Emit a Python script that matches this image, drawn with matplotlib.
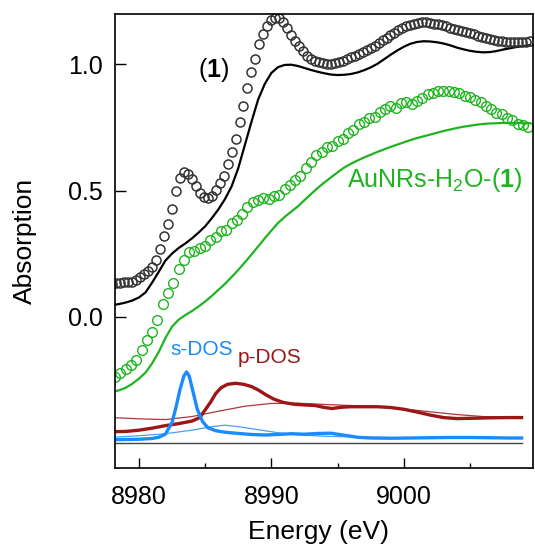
import numpy as np
import matplotlib
matplotlib.use('Agg')
import matplotlib.pyplot as plt
from matplotlib.ticker import MultipleLocator

plt.rcParams['font.family'] = ['Liberation Sans', 'DejaVu Sans']
plt.rcParams['mathtext.fontset'] = 'custom'
plt.rcParams['mathtext.rm'] = 'Liberation Sans'
plt.rcParams['mathtext.bf'] = 'Liberation Sans:bold'

# --- data ---
# experimental XANES, complex (1): energy grid 8978.0 ... 9009.5, 0.3 eV step
exp1_energy = np.linspace(8978.0, 9009.5, 106)
exp1_abs = [
    0.130, 0.132, 0.134, 0.136, 0.137, 0.139, 0.146, 0.157, 0.168, 0.181,
    0.198, 0.225, 0.268, 0.318, 0.368, 0.428, 0.498, 0.550, 0.572, 0.566,
    0.545, 0.520, 0.492, 0.476, 0.470, 0.478, 0.503, 0.530, 0.558, 0.605,
    0.652, 0.705, 0.770, 0.835, 0.906, 0.972, 1.022, 1.080, 1.120, 1.152,
    1.175, 1.186, 1.183, 1.168, 1.145, 1.118, 1.092, 1.072, 1.052, 1.034,
    1.022, 1.014, 1.008, 1.004, 1.003, 1.003, 1.005, 1.009, 1.015, 1.021,
    1.028, 1.035, 1.043, 1.050, 1.058, 1.066, 1.074, 1.084, 1.095, 1.105,
    1.115, 1.125, 1.135, 1.143, 1.151, 1.157, 1.162, 1.165, 1.167, 1.167,
    1.165, 1.162, 1.159, 1.155, 1.151, 1.146, 1.142, 1.138, 1.134, 1.130,
    1.125, 1.119, 1.113, 1.108, 1.104, 1.100, 1.097, 1.094, 1.091, 1.089,
    1.088, 1.088, 1.089, 1.089, 1.090, 1.091,
]

# experimental XANES, AuNRs-H2O-(1): energy grid 8978.2 ... 9009.4, 0.4 eV step
exp2_energy = np.linspace(8978.2, 9009.4, 79)
exp2_abs = [
    -0.240, -0.225, -0.207, -0.190, -0.170, -0.132, -0.094, -0.060, -0.015, 0.050,
    0.092, 0.135, 0.190, 0.225, 0.255, 0.262, 0.272, 0.281, 0.304, 0.316,
    0.338, 0.343, 0.370, 0.383, 0.407, 0.433, 0.454, 0.464, 0.470, 0.468,
    0.478, 0.484, 0.505, 0.522, 0.542, 0.558, 0.588, 0.612, 0.640, 0.652,
    0.672, 0.676, 0.696, 0.706, 0.728, 0.742, 0.762, 0.772, 0.789, 0.790,
    0.812, 0.822, 0.834, 0.828, 0.846, 0.850, 0.842, 0.856, 0.868, 0.884,
    0.886, 0.895, 0.893, 0.896, 0.889, 0.886, 0.873, 0.869, 0.858, 0.852,
    0.836, 0.825, 0.808, 0.802, 0.788, 0.780, 0.762, 0.758, 0.752,
]

# calculated spectra, 0.5 eV step
calc_energy = np.linspace(8978.0, 9009.5, 64)
calc1_abs = [
    0.046, 0.050, 0.056, 0.064, 0.076, 0.096, 0.135, 0.178, 0.222, 0.250,
    0.272, 0.290, 0.310, 0.333, 0.358, 0.390, 0.425, 0.466, 0.516, 0.588,
    0.680, 0.772, 0.860, 0.922, 0.966, 0.989, 0.998, 0.999, 0.994, 0.986,
    0.978, 0.971, 0.965, 0.960, 0.958, 0.959, 0.962, 0.968, 0.977, 0.988,
    1.002, 1.020, 1.038, 1.055, 1.070, 1.082, 1.089, 1.092, 1.091, 1.088,
    1.083, 1.076, 1.067, 1.060, 1.054, 1.050, 1.048, 1.049, 1.053, 1.059,
    1.064, 1.069, 1.073, 1.076,
]
calc2_abs = [
    -0.298, -0.292, -0.282, -0.266, -0.246, -0.222, -0.185, -0.140, -0.085, -0.040,
    -0.012, 0.006, 0.022, 0.040, 0.060, 0.082, 0.106, 0.130, 0.157, 0.185,
    0.215, 0.246, 0.278, 0.310, 0.341, 0.371, 0.395, 0.416, 0.437, 0.462,
    0.486, 0.510, 0.532, 0.552, 0.572, 0.591, 0.606, 0.619, 0.631, 0.642,
    0.653, 0.663, 0.673, 0.682, 0.691, 0.700, 0.708, 0.715, 0.722, 0.729,
    0.736, 0.742, 0.748, 0.753, 0.757, 0.761, 0.764, 0.766, 0.767, 0.768,
    0.768, 0.768, 0.767, 0.767,
]

# density of states (offset below the spectra)
sdos_energy = [8978.0, 8979.0, 8980.0, 8981.0, 8981.5, 8982.0, 8982.5, 8982.8, 8983.1, 8983.4,
               8983.6, 8983.8, 8984.1, 8984.4, 8984.8, 8985.2, 8985.8, 8986.5, 8987.5, 8988.5,
               8989.5, 8990.5, 8991.5, 8992.5, 8993.5, 8994.5, 8995.5, 8996.5, 8997.5, 8999.0,
               9000.5, 9002.0, 9003.5, 9005.0, 9006.5, 9008.0, 9008.9]
sdos = [-0.488, -0.487, -0.486, -0.483, -0.478, -0.466, -0.420, -0.360, -0.290, -0.235,
        -0.219, -0.235, -0.300, -0.365, -0.415, -0.440, -0.452, -0.458, -0.463, -0.467,
        -0.469, -0.467, -0.464, -0.466, -0.463, -0.462, -0.470, -0.478, -0.481, -0.482,
        -0.481, -0.480, -0.479, -0.479, -0.480, -0.481, -0.481]
sdos_broad_energy = [8978.0, 8980.0, 8982.0, 8984.0, 8985.5, 8986.5, 8987.5, 8989.0, 8990.5,
                     8992.0, 8994.0, 8997.0, 9001.0, 9005.0, 9008.9]
sdos_broad = [-0.478, -0.472, -0.464, -0.450, -0.436, -0.430, -0.436, -0.448, -0.460,
              -0.468, -0.474, -0.478, -0.480, -0.480, -0.480]

pdos_energy = [8978.0, 8979.0, 8980.0, 8981.0, 8982.0, 8983.0, 8984.0, 8984.6, 8985.0, 8985.4,
               8985.8, 8986.2, 8986.7, 8987.3, 8987.9, 8988.5, 8989.0, 8989.6, 8990.2, 8990.9,
               8991.7, 8992.5, 8993.3, 8994.0, 8994.6, 8995.3, 8996.0, 8997.0, 8998.0, 8999.0,
               9000.0, 9001.0, 9002.0, 9003.0, 9004.0, 9005.0, 9006.5, 9008.0, 9008.9]
pdos = [-0.456, -0.455, -0.450, -0.442, -0.432, -0.424, -0.414, -0.400, -0.370, -0.340,
        -0.305, -0.282, -0.268, -0.264, -0.268, -0.277, -0.290, -0.310, -0.327, -0.340,
        -0.347, -0.350, -0.352, -0.360, -0.364, -0.359, -0.357, -0.357, -0.357, -0.360,
        -0.367, -0.378, -0.390, -0.400, -0.404, -0.403, -0.401, -0.400, -0.400]
pdos_broad_energy = [8978.0, 8980.0, 8982.0, 8984.0, 8986.0, 8988.0, 8990.0, 8992.0, 8994.0,
                     8996.0, 8998.0, 9000.0, 9002.0, 9004.0, 9006.0, 9008.9]
pdos_broad = [-0.400, -0.405, -0.408, -0.396, -0.375, -0.355, -0.344, -0.343, -0.348,
              -0.352, -0.358, -0.366, -0.377, -0.388, -0.396, -0.400]

dos_zero_energy = [8978.0, 9008.9]
dos_zero = [-0.50, -0.50]

yticks = [0.0, 0.5, 1.0]

green = '#1fb41f'
blue = '#1a8cff'
darkred = '#9c1616'

fig = plt.figure(figsize=(5.35, 5.51), dpi=100)
ax = fig.add_axes([0.215, 0.1506, 0.781, 0.824])

ax.plot(dos_zero_energy, dos_zero, color='#444444', lw=1.0)
ax.plot(pdos_broad_energy, pdos_broad, color='#a83a3a', lw=0.9)
ax.plot(sdos_broad_energy, sdos_broad, color='#4a9ff0', lw=0.9)
ax.plot(pdos_energy, pdos, color=darkred, lw=2.4)
ax.plot(sdos_energy, sdos, color=blue, lw=2.4)

ax.plot(calc_energy, calc2_abs, color=green, lw=1.6)
ax.plot(calc_energy, calc1_abs, color='black', lw=1.6)
ax.plot(exp2_energy, exp2_abs, 'o', ms=7, mfc='none', mec=green, mew=1.0)
ax.plot(exp1_energy, exp1_abs, 'o', ms=6.5, mfc='none', mec='#333333', mew=1.1)

ax.text(8984.45, 0.952, r'($\mathbf{1}$)', fontsize=18, color='black')
ax.text(8995.7, 0.515, r'AuNRs-H$_2$O-($\mathbf{1}$)', fontsize=18, color=green)
ax.text(8982.36, -0.152, 's-DOS', fontsize=15, color=blue)
ax.text(8987.47, -0.185, 'p-DOS', fontsize=15, color=darkred)

ax.set_xlim(8978.2, 9009.75)
ax.set_ylim(-0.60, 1.20)
ax.xaxis.set_major_locator(MultipleLocator(10))
ax.xaxis.set_minor_locator(MultipleLocator(5))
ax.set_yticks(yticks)
ax.set_yticklabels([f'{v:.1f}' for v in yticks])
ax.tick_params(axis='x', which='major', direction='in', length=7.2, width=1, labelsize=18, pad=12)
ax.tick_params(axis='x', which='minor', direction='in', length=3.6, width=1)
ax.tick_params(axis='y', which='major', direction='in', length=8, width=1, labelsize=18, pad=9)
for s in ax.spines.values():
    s.set_linewidth(1.2)

ax.set_xlabel('Energy (eV)', fontsize=19)
ax.set_ylabel('Absorption', fontsize=19)
ax.xaxis.set_label_coords(0.487, -0.115)
ax.yaxis.set_label_coords(-0.187, 0.5)

fig.savefig('out.png', dpi=100)
